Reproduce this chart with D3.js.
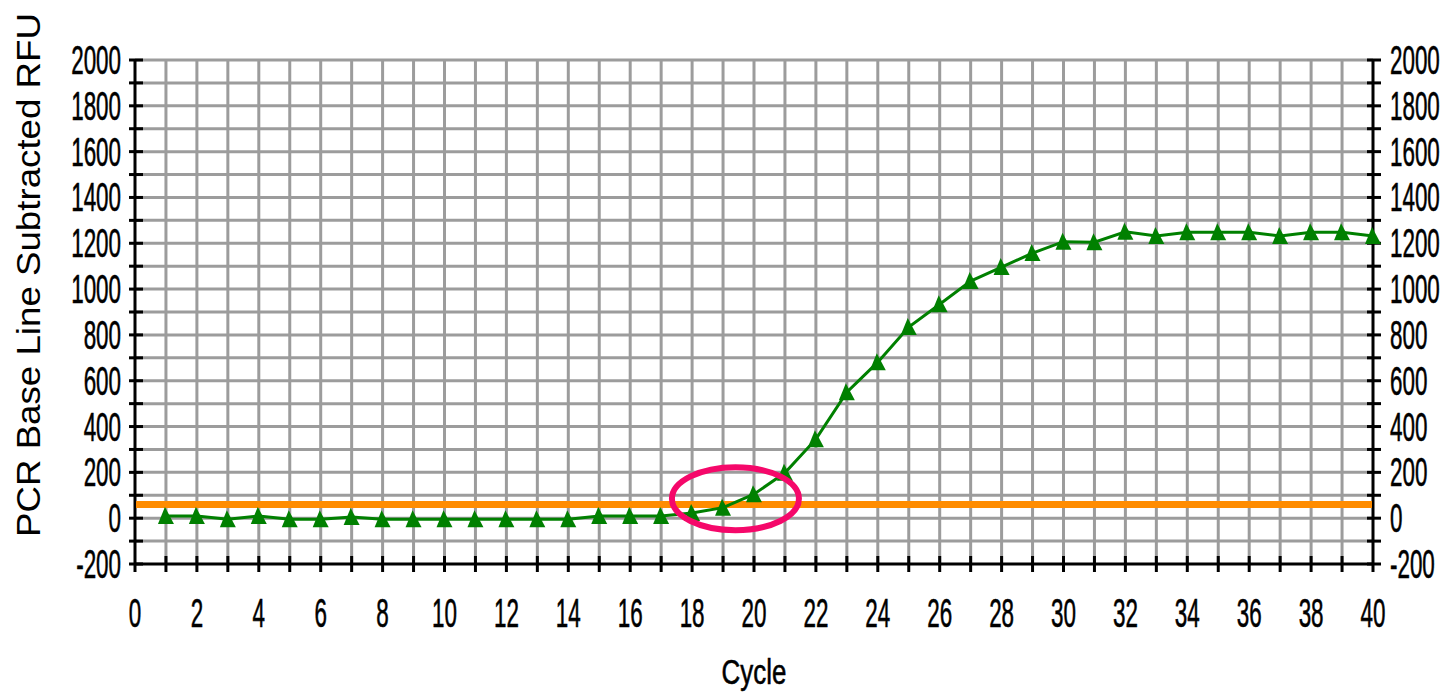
<!DOCTYPE html>
<html>
<head>
<meta charset="utf-8">
<script src="https://cdn.jsdelivr.net/npm/d3@7"></script>
<style>
  html, body { margin: 0; padding: 0; background: #fff; }
  svg { display: block; }
</style>
</head>
<body>
<div id="chart"></div>
<script>
// amplification data, one value per cycle
const cycles = d3.range(1, 41);
const rfu = [10, 10, -5, 10, -5, -5, 5, -5, -5, -5,
             -5, -5, -5, -5, 10, 10, 10, 23, 46, 105,
             198, 345, 550, 681, 834, 934, 1035, 1096, 1157, 1207,
             1205, 1250, 1232, 1248, 1248, 1248, 1232, 1248, 1248, 1232];
const threshold = 60;
const xTicks = d3.range(0, 41, 2);
const yTicks = d3.range(-200, 2001, 200);
const yTitle = 'PCR Base Line Subtracted RFU';
const xTitle = 'Cycle';

const width = 1448, height = 694;
const margin = { top: 60, right: 75, bottom: 130, left: 135 };

const svg = d3.select('#chart').append('svg')
  .attr('width', width)
  .attr('height', height);

const x = d3.scaleLinear().domain([0, 40]).range([margin.left, width - margin.right]);
const y = d3.scaleLinear().domain([-200, 2000]).range([height - margin.bottom, margin.top]);

const grey = '#9c9c9c';

// grid
const grid = svg.append('g');
grid.selectAll('.vg').data(d3.range(1, 40)).join('line')
  .attr('x1', d => x(d)).attr('x2', d => x(d))
  .attr('y1', y(2000)).attr('y2', y(-200))
  .attr('stroke', grey).attr('stroke-width', 3);
grid.selectAll('.hg').data(d3.range(-100, 2001, 100)).join('line')
  .attr('x1', x(0)).attr('x2', x(40))
  .attr('y1', d => y(d)).attr('y2', d => y(d))
  .attr('stroke', grey).attr('stroke-width', 3);

// condensed, bitmap-like text (squeezed horizontally)
function label(g, txt, px, py, anchor, size, sx) {
  return g.append('text')
    .attr('transform', `translate(${px},${py}) scale(${sx},1)`)
    .attr('text-anchor', anchor)
    .attr('font-family', 'Liberation Sans, Arial, sans-serif')
    .attr('font-size', size)
    .attr('fill', '#000')
    .attr('stroke', '#000')
    .attr('stroke-width', 0.6)
    .text(txt);
}

// axes
const axes = svg.append('g').attr('stroke', '#000').attr('stroke-width', 3);
axes.append('line').attr('x1', x(0)).attr('x2', x(0)).attr('y1', y(2000)).attr('y2', y(-200) + 8);
axes.append('line').attr('x1', x(40)).attr('x2', x(40)).attr('y1', y(2000)).attr('y2', y(-200) + 8);
axes.append('line').attr('x1', x(0)).attr('x2', x(40)).attr('y1', y(-200)).attr('y2', y(-200));

d3.range(-200, 2001, 100).forEach(v => {
  axes.append('line').attr('x1', x(0) - 6).attr('x2', x(0) + 8).attr('y1', y(v)).attr('y2', y(v));
  axes.append('line').attr('x1', x(40) - 6).attr('x2', x(40) + 8).attr('y1', y(v)).attr('y2', y(v));
});
d3.range(1, 40).forEach(c => {
  axes.append('line').attr('x1', x(c)).attr('x2', x(c)).attr('y1', y(-200) - 8).attr('y2', y(-200) + 8);
});

const sx = 0.56;
const labels = svg.append('g');
yTicks.forEach(v => {
  const s = String(v);
  label(labels, s, x(0) - 14, y(v) + 14, 'end', 40, sx);
  label(labels, s, x(40) + 17, y(v) + 14, 'start', 40, sx);
});
xTicks.forEach(c => {
  label(labels, String(c), x(c), 627, 'middle', 40, sx);
});

label(labels, xTitle, (x(0) + x(40)) / 2, 684, 'middle', 36, 0.72);

svg.append('text')
  .attr('transform', `translate(40, 275) rotate(-90)`)
  .attr('text-anchor', 'middle')
  .attr('font-family', 'Liberation Sans, Arial, sans-serif')
  .attr('font-size', 33)
  .attr('textLength', 524)
  .attr('lengthAdjust', 'spacingAndGlyphs')
  .text(yTitle);

// threshold line
svg.append('line')
  .attr('x1', x(0) + 1).attr('x2', x(40) - 1)
  .attr('y1', y(threshold)).attr('y2', y(threshold))
  .attr('stroke', '#ff8c00').attr('stroke-width', 7);

// amplification curve
const pts = cycles.map((c, i) => ({ c, v: rfu[i] }));
svg.append('path')
  .datum(pts)
  .attr('fill', 'none')
  .attr('stroke', '#008000')
  .attr('stroke-width', 3)
  .attr('d', d3.line().x(d => x(d.c)).y(d => y(d.v)));

svg.selectAll('.mk').data(pts).join('path')
  .attr('transform', d => `translate(${x(d.c)},${y(d.v)})`)
  .attr('d', 'M-1,-9 L8,8 L-8,8 Z')
  .attr('fill', '#008000');

// highlight around threshold crossing
svg.append('ellipse')
  .attr('cx', x(19.4)).attr('cy', y(85))
  .attr('rx', 63.5).attr('ry', 31.5)
  .attr('fill', 'none')
  .attr('stroke', '#f5086a')
  .attr('stroke-width', 6);
</script>
</body>
</html>
